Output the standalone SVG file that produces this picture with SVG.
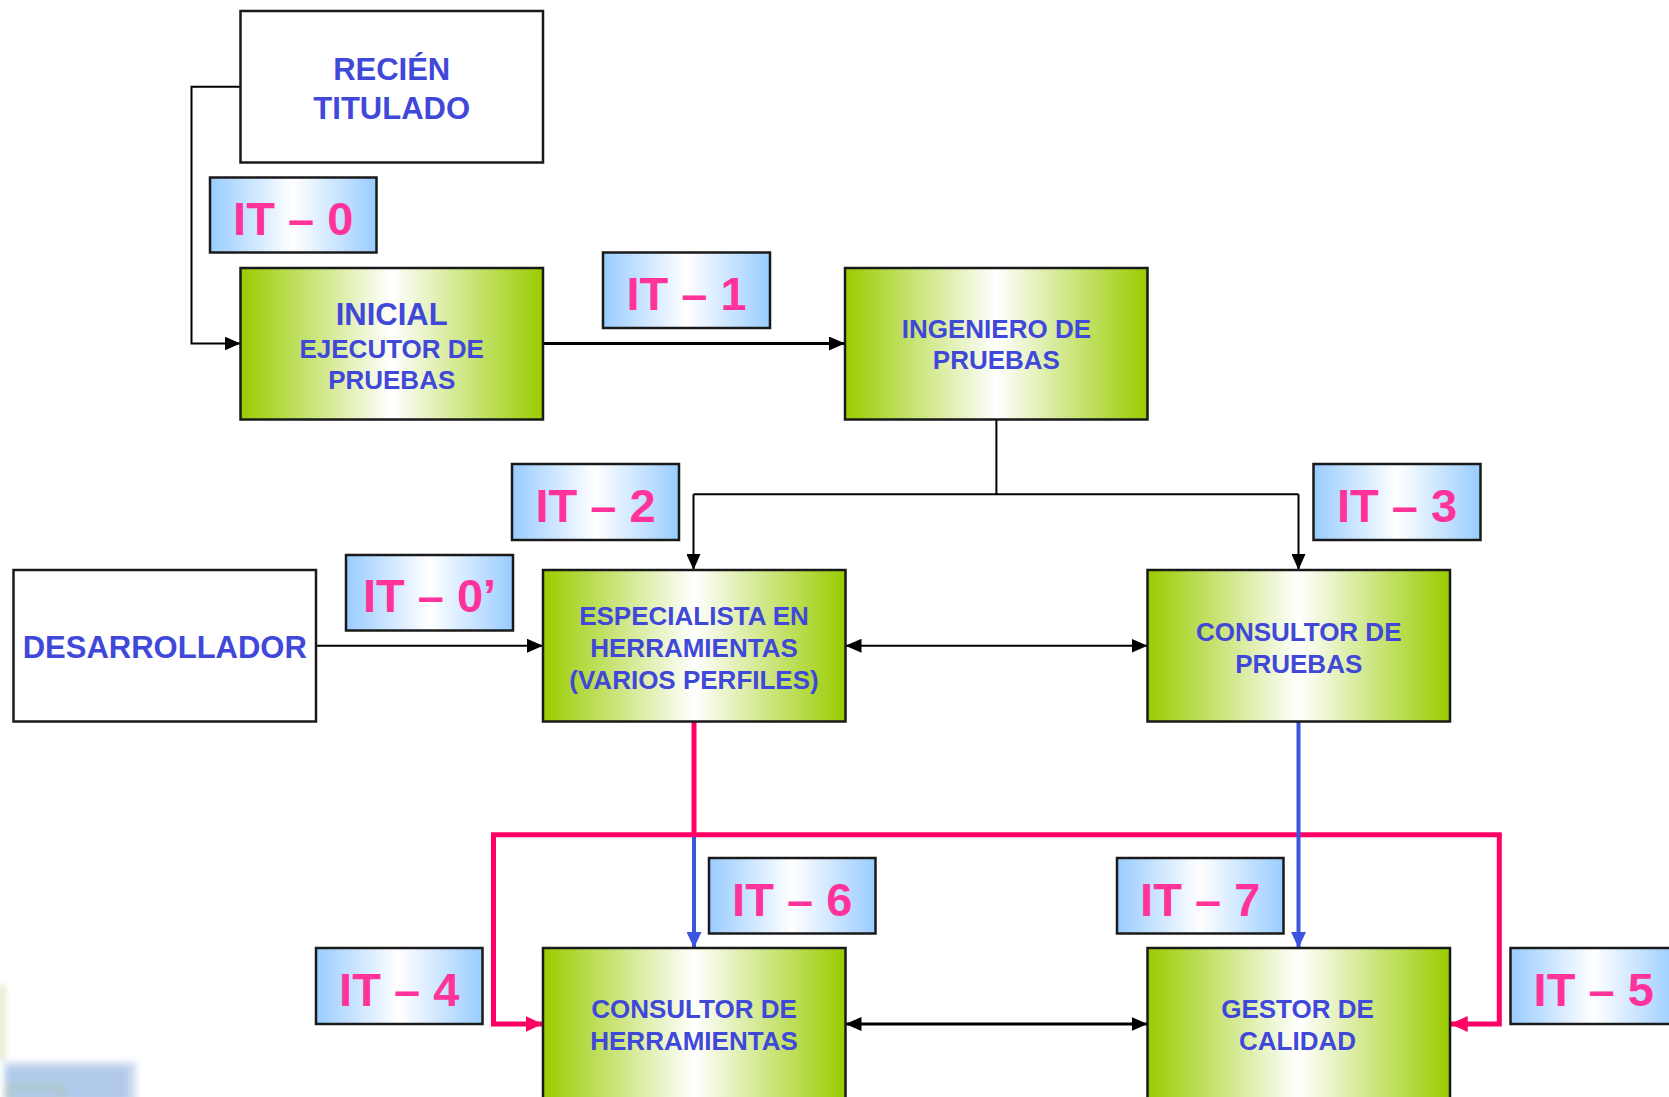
<svg xmlns="http://www.w3.org/2000/svg" width="1669" height="1097" viewBox="0 0 1669 1097">
<defs>
<linearGradient id="gGreen" x1="0" y1="0" x2="1" y2="0">
<stop offset="0" stop-color="#9ACC00"/>
<stop offset="0.5" stop-color="#FFFFFF"/>
<stop offset="1" stop-color="#9ACC00"/>
</linearGradient>
<linearGradient id="gBlue" x1="0" y1="0" x2="1" y2="0">
<stop offset="0" stop-color="#99CCFF"/>
<stop offset="0.5" stop-color="#FFFFFF"/>
<stop offset="1" stop-color="#99CCFF"/>
</linearGradient>
<filter id="blur" x="-20%" y="-20%" width="140%" height="140%"><feGaussianBlur stdDeviation="3"/></filter>
<marker id="aBlack" markerUnits="userSpaceOnUse" markerWidth="16" markerHeight="14" refX="16" refY="7" orient="auto-start-reverse"><path d="M0,0 L16,7 L0,14 z" fill="#000"/></marker>
<marker id="aPink" markerUnits="userSpaceOnUse" markerWidth="17" markerHeight="16" refX="17" refY="8" orient="auto"><path d="M0,0 L17,8 L0,16 z" fill="#FF0066"/></marker>
<marker id="aBlue" markerUnits="userSpaceOnUse" markerWidth="16" markerHeight="15" refX="16" refY="7.5" orient="auto"><path d="M0,0 L16,7.5 L0,15 z" fill="#3B55E0"/></marker>
</defs>
<style>
.box{stroke:#1a1a1a;stroke-width:2.5}
.white{fill:#FFFFFF}
.green{fill:url(#gGreen)}
.it{fill:url(#gBlue);stroke:#1a1a1a;stroke-width:2.5}
.t{font-family:"Liberation Sans",Arial,sans-serif;font-weight:bold;fill:#3F48D8;text-anchor:middle}
.big{font-size:31px}
.sm{font-size:26px}
.lbl{font-family:"Liberation Sans",Arial,sans-serif;font-weight:bold;fill:#FF3399;font-size:47px;text-anchor:middle}
.c{fill:none;stroke:#000}
.pink{fill:none;stroke:#FF0066;stroke-width:5}
.blue{fill:none;stroke:#3B55E0;stroke-width:4}
</style>
<rect width="1669" height="1097" fill="#FFFFFF"/>
<g id="background-artifact" filter="url(#blur)" opacity="0.9">
<rect x="0" y="985" width="4" height="75" fill="#C9DA9C"/>
<rect x="4" y="1062" width="132" height="40" fill="#C7D8EE"/>
<rect x="6" y="1067" width="122" height="35" fill="#A9C4E8"/>
<rect x="8" y="1087" width="54" height="14" fill="none" stroke="#9CC35A" stroke-width="2"/>
</g>
<g id="connectors">
<polyline class="c" stroke-width="2" points="240.5,86.7 191.5,86.7 191.5,343.5 240.5,343.5" marker-end="url(#aBlack)"/>
<line class="c" stroke-width="3" x1="543" y1="343.5" x2="845" y2="343.5" marker-end="url(#aBlack)"/>
<line class="c" stroke-width="2" x1="996.4" y1="419.5" x2="996.4" y2="494.3"/>
<line class="c" stroke-width="2" x1="693.5" y1="494.3" x2="1298.5" y2="494.3"/>
<line class="c" stroke-width="2" x1="693.5" y1="494.3" x2="693.5" y2="570" marker-end="url(#aBlack)"/>
<line class="c" stroke-width="2" x1="1298.5" y1="494.3" x2="1298.5" y2="570" marker-end="url(#aBlack)"/>
<line class="c" stroke-width="2" x1="316" y1="645.75" x2="543" y2="645.75" marker-end="url(#aBlack)"/>
<line class="c" stroke-width="2" x1="845.5" y1="645.75" x2="1147.5" y2="645.75" marker-start="url(#aBlack)" marker-end="url(#aBlack)"/>
<line class="pink" x1="694" y1="721.7" x2="694" y2="834.7"/>
<line class="pink" x1="491" y1="834.7" x2="1501.8" y2="834.7"/>
<polyline class="pink" points="493.5,834.7 493.5,1024 542.5,1024" marker-end="url(#aPink)"/>
<polyline class="pink" points="1499.3,834.7 1499.3,1024 1450.7,1024" marker-end="url(#aPink)"/>
<line class="blue" x1="694" y1="837" x2="694" y2="948" marker-end="url(#aBlue)"/>
<line class="blue" x1="1298.5" y1="721.7" x2="1298.5" y2="948" marker-end="url(#aBlue)"/>
<line class="c" stroke-width="3" x1="845.5" y1="1024" x2="1147.5" y2="1024" marker-start="url(#aBlack)" marker-end="url(#aBlack)"/>
</g>
<g id="recien-titulado">
<rect class="box white" x="240.5" y="11" width="302.5" height="151.5"/>
<text class="t big" x="391.7" y="80">RECIÉN</text>
<text class="t big" x="391.7" y="119">TITULADO</text>
</g>
<g id="inicial">
<rect class="box green" x="240.5" y="268" width="302.5" height="151.5"/>
<text class="t big" x="391.7" y="325">INICIAL</text>
<text class="t sm" x="391.7" y="357.7">EJECUTOR DE</text>
<text class="t sm" x="391.7" y="389.3">PRUEBAS</text>
</g>
<g id="ingeniero">
<rect class="box green" x="845" y="268" width="302.5" height="151.5"/>
<text class="t sm" x="996.4" y="337.7">INGENIERO DE</text>
<text class="t sm" x="996.4" y="369.3">PRUEBAS</text>
</g>
<g id="desarrollador">
<rect class="box white" x="13.5" y="570" width="302.5" height="151.5"/>
<text class="t big" x="164.8" y="658.3">DESARROLLADOR</text>
</g>
<g id="especialista">
<rect class="box green" x="543" y="570" width="302.5" height="151.5"/>
<text class="t sm" x="694" y="625">ESPECIALISTA EN</text>
<text class="t sm" x="694" y="656.7">HERRAMIENTAS</text>
<text class="t sm" x="694" y="688.7">(VARIOS PERFILES)</text>
</g>
<g id="consultor-pruebas">
<rect class="box green" x="1147.5" y="570" width="302.5" height="151.5"/>
<text class="t sm" x="1298.7" y="640.7">CONSULTOR DE</text>
<text class="t sm" x="1298.7" y="672.7">PRUEBAS</text>
</g>
<g id="consultor-herramientas">
<rect class="box green" x="543" y="948" width="302.5" height="151.5"/>
<text class="t sm" x="694" y="1018.3">CONSULTOR DE</text>
<text class="t sm" x="694" y="1050">HERRAMIENTAS</text>
</g>
<g id="gestor-calidad">
<rect class="box green" x="1147.5" y="948" width="302.5" height="151.5"/>
<text class="t sm" x="1297.5" y="1018.3">GESTOR DE</text>
<text class="t sm" x="1297.5" y="1050">CALIDAD</text>
</g>
<g id="it-0"><rect class="it" x="210" y="177.5" width="166.5" height="75"/><text class="lbl" x="293.2" y="234.5">IT – 0</text></g>
<g id="it-1"><rect class="it" x="603" y="252.5" width="167" height="75.5"/><text class="lbl" x="686.5" y="310">IT – 1</text></g>
<g id="it-2"><rect class="it" x="512" y="464" width="167" height="76"/><text class="lbl" x="595.5" y="521.5">IT – 2</text></g>
<g id="it-3"><rect class="it" x="1313.5" y="464" width="167" height="76"/><text class="lbl" x="1397" y="521.5">IT – 3</text></g>
<g id="it-0p"><rect class="it" x="346" y="555" width="167" height="75.5"/><text class="lbl" x="429.5" y="612">IT – 0’</text></g>
<g id="it-6"><rect class="it" x="709" y="858" width="166.5" height="75.5"/><text class="lbl" x="792.2" y="915.5">IT – 6</text></g>
<g id="it-7"><rect class="it" x="1117" y="858" width="166.5" height="75.5"/><text class="lbl" x="1200.2" y="915.5">IT – 7</text></g>
<g id="it-4"><rect class="it" x="316" y="948" width="166.5" height="76"/><text class="lbl" x="399.2" y="1005.5">IT – 4</text></g>
<g id="it-5"><rect class="it" x="1510.5" y="948" width="166.5" height="76"/><text class="lbl" x="1593.7" y="1005.5">IT – 5</text></g>
</svg>
